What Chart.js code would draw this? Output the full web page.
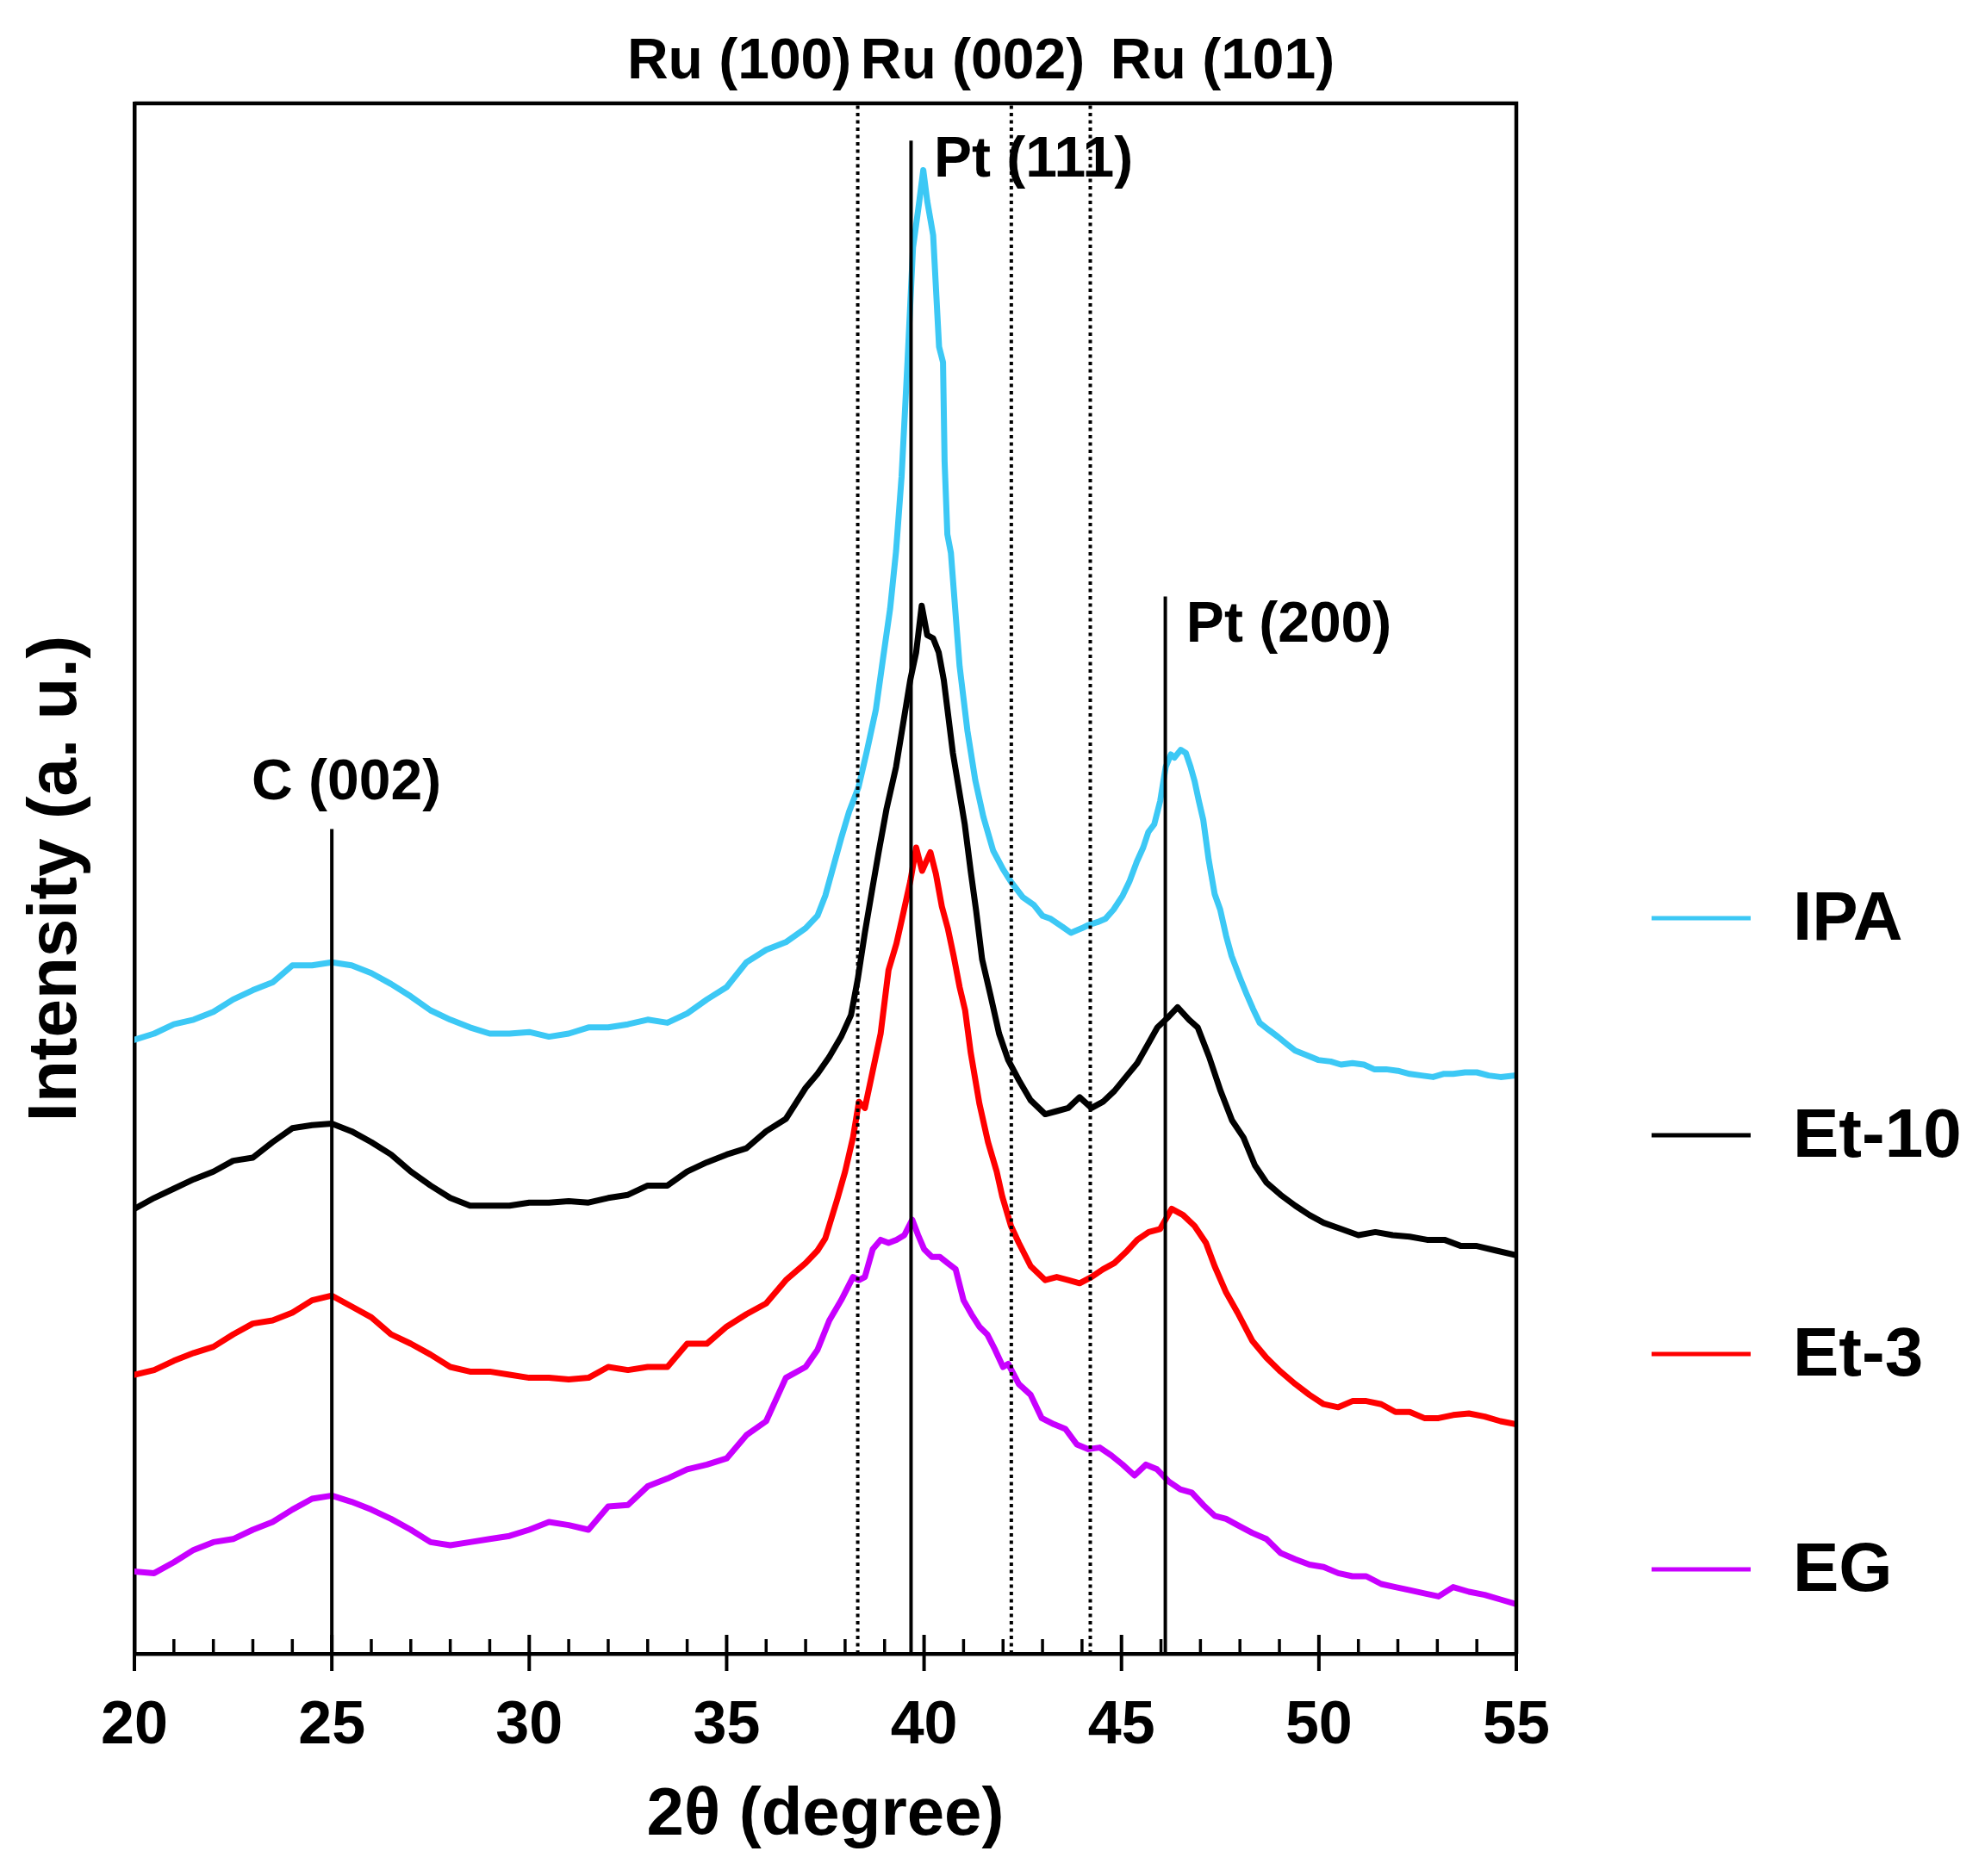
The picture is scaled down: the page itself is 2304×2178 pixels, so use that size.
<!DOCTYPE html>
<html>
<head>
<meta charset="utf-8">
<script src="https://cdn.jsdelivr.net/npm/chart.js@4.4.1/dist/chart.umd.min.js"></script>
<style>
  body { margin: 0; background: #fff; }
  canvas { display: block; }
</style>
</head>
<body>
<canvas id="myChart" width="2304" height="2178"></canvas>
<script>
// XRD patterns, intensity (arbitrary units, 0..100 of the frame)
const seriesNames = ['IPA', 'Et-10', 'Et-3', 'EG'];
const seriesColors = ['#3CC8F5', '#000000', '#FF0000', '#C800FF'];

const ipa = [
  [20,39.6],[20.5,40.0],[21,40.6],[21.5,40.9],[22,41.4],[22.5,42.2],[23,42.8],[23.5,43.3],
  [24,44.4],[24.5,44.4],[25,44.6],[25.5,44.4],[26,43.9],[26.5,43.2],[27,42.4],[27.5,41.5],
  [28,40.9],[28.5,40.4],[29,40.0],[29.5,40.0],[30,40.1],[30.5,39.8],[31,40.0],[31.5,40.4],
  [32,40.4],[32.5,40.6],[33,40.9],[33.5,40.7],[34,41.3],[34.5,42.2],[35,43.0],[35.5,44.6],
  [36,45.4],[36.5,45.9],[37,46.8],[37.3,47.6],[37.5,48.9],[37.9,52.6],[38.1,54.3],[38.34,55.9],
  [38.55,58.2],[38.78,60.9],[38.95,64.0],[39.14,67.4],[39.29,71.1],[39.43,75.9],[39.58,83.3],
  [39.72,90.7],[39.87,93.5],[39.98,95.7],[40.08,93.7],[40.23,91.5],[40.38,84.3],[40.48,83.3],
  [40.52,76.9],[40.59,72.2],[40.68,71.0],[40.9,63.7],[41.1,59.5],[41.3,56.3],[41.5,54.0],
  [41.75,51.8],[42.0,50.6],[42.2,49.8],[42.5,48.8],[42.78,48.3],[43.0,47.6],[43.21,47.4],
  [43.5,46.9],[43.72,46.5],[44.0,46.8],[44.16,47.0],[44.4,47.2],[44.59,47.4],[44.8,48.0],
  [45.03,48.9],[45.2,49.8],[45.39,51.1],[45.55,52.0],[45.68,53.0],[45.83,53.5],[45.98,55.0],
  [46.12,57.2],[46.25,58.0],[46.34,57.8],[46.5,58.3],[46.63,58.1],[46.75,57.2],[46.85,56.3],
  [46.96,55.0],[47.07,53.8],[47.21,51.2],[47.36,49.0],[47.5,48.0],[47.65,46.3],[47.79,45.0],
  [48.0,43.6],[48.16,42.6],[48.33,41.6],[48.5,40.7],[48.75,40.2],[48.96,39.8],[49.2,39.3],
  [49.4,38.9],[49.7,38.6],[49.98,38.3],[50.3,38.2],[50.56,38.0],[50.85,38.1],[51.14,38.0],
  [51.4,37.7],[51.7,37.7],[52.0,37.6],[52.3,37.4],[52.6,37.3],[52.89,37.2],[53.15,37.4],
  [53.4,37.4],[53.7,37.5],[54.0,37.5],[54.3,37.3],[54.6,37.2],[55,37.3]
];

const et10 = [
  [20,28.7],[20.5,29.4],[21,30.0],[21.5,30.6],[22,31.1],[22.5,31.8],[23,32.0],[23.5,33.0],
  [24,33.9],[24.5,34.1],[25,34.2],[25.5,33.7],[26,33.0],[26.5,32.2],[27,31.1],[27.5,30.2],
  [28,29.4],[28.5,28.9],[29,28.9],[29.5,28.9],[30,29.1],[30.5,29.1],[31,29.2],[31.5,29.1],
  [32,29.4],[32.5,29.6],[33,30.2],[33.5,30.2],[34,31.1],[34.5,31.7],[35,32.2],[35.5,32.6],
  [36,33.7],[36.5,34.5],[37,36.5],[37.3,37.4],[37.6,38.5],[37.9,39.8],[38.15,41.2],[38.32,43.5],
  [38.5,46.5],[38.7,49.5],[38.85,51.7],[39.05,54.5],[39.29,57.2],[39.47,60.0],[39.65,62.8],
  [39.8,64.6],[39.94,67.6],[40.08,65.7],[40.23,65.5],[40.37,64.6],[40.5,62.8],
  [40.73,58.1],[40.88,55.8],[41.03,53.5],[41.18,50.5],[41.32,47.9],[41.47,44.8],[41.68,42.5],
  [41.9,40.0],[42.13,38.3],[42.4,37.0],[42.7,35.7],[43.07,34.8],[43.36,35.0],[43.65,35.2],
  [43.94,35.9],[44.24,35.2],[44.53,35.6],[44.82,36.3],[45.11,37.2],[45.4,38.1],[45.69,39.4],
  [45.91,40.4],[46.2,41.1],[46.42,41.7],[46.71,40.9],[46.93,40.4],[47.22,38.5],[47.51,36.3],
  [47.8,34.4],[48.09,33.3],[48.38,31.5],[48.67,30.4],[49.03,29.6],[49.4,28.9],[49.76,28.3],
  [50.12,27.8],[50.56,27.4],[51.0,27.0],[51.43,27.2],[51.87,27.0],[52.3,26.9],[52.74,26.7],
  [53.18,26.7],[53.6,26.3],[54.0,26.3],[54.5,26.0],[55,25.7]
];

const et3 = [
  [20,18.0],[20.5,18.3],[21,18.9],[21.5,19.4],[22,19.8],[22.5,20.6],[23,21.3],[23.5,21.5],
  [24,22.0],[24.5,22.8],[25,23.1],[25.5,22.4],[26,21.7],[26.5,20.6],
  [27,20.0],[27.5,19.3],[28,18.5],[28.5,18.2],[29,18.2],[29.5,18.0],[30,17.8],[30.5,17.8],
  [31,17.7],[31.5,17.8],[32,18.5],[32.5,18.3],[33,18.5],[33.5,18.5],[34,20.0],[34.5,20.0],
  [35,21.1],[35.5,21.9],[36,22.6],[36.5,24.1],[37,25.2],[37.3,26.0],[37.5,26.8],[37.8,29.3],
  [38.0,31.1],[38.2,33.3],[38.35,35.6],[38.5,35.2],[38.7,37.6],[38.9,40.0],[39.1,44.1],
  [39.3,45.8],[39.45,47.5],[39.65,49.8],[39.8,52.0],[39.95,50.5],[40.16,51.7],[40.3,50.3],
  [40.45,48.2],[40.6,46.8],[40.75,45.0],[40.9,43.0],[41.04,41.5],[41.18,38.8],[41.4,35.5],
  [41.62,33.0],[41.84,31.1],[41.98,29.5],[42.2,27.6],[42.4,26.5],[42.7,25.0],[43.07,24.1],
  [43.36,24.3],[43.65,24.1],[43.94,23.9],[44.24,24.3],[44.53,24.8],[44.82,25.2],[45.11,25.9],
  [45.4,26.7],[45.69,27.2],[45.98,27.4],[46.27,28.7],[46.56,28.3],[46.85,27.6],[47.14,26.5],
  [47.36,25.0],[47.65,23.3],[47.94,22.0],[48.31,20.2],[48.67,19.1],[49.03,18.2],[49.4,17.4],
  [49.76,16.7],[50.12,16.1],[50.49,15.9],[50.85,16.3],[51.2,16.3],[51.58,16.1],[51.94,15.6],
  [52.3,15.6],[52.67,15.2],[53.03,15.2],[53.4,15.4],[53.8,15.5],[54.2,15.3],[54.6,15.0],[55,14.8]
];

const eg = [
  [20,5.3],[20.5,5.2],[21,5.9],[21.5,6.7],[22,7.2],[22.5,7.4],[23,8.0],[23.5,8.5],
  [24,9.3],[24.5,10.0],[25,10.2],[25.5,9.8],[26,9.3],[26.5,8.7],[27,8.0],[27.5,7.2],
  [28,7.0],[28.5,7.2],[29,7.4],[29.5,7.6],[30,8.0],[30.5,8.5],[31,8.3],[31.5,8.0],
  [32,9.5],[32.5,9.6],[33,10.8],[33.5,11.3],[34,11.9],[34.5,12.2],[35,12.6],[35.5,14.1],
  [36,15.0],[36.5,17.8],[37,18.5],[37.3,19.6],[37.6,21.5],[37.9,22.8],[38.2,24.3],[38.35,24.1],
  [38.5,24.3],[38.7,26.1],[38.9,26.7],[39.1,26.5],[39.3,26.7],[39.5,27.0],[39.7,28.0],
  [39.85,27.0],[40.0,26.1],[40.2,25.6],[40.4,25.6],[40.6,25.2],[40.8,24.8],[41.0,22.8],
  [41.2,21.9],[41.4,21.1],[41.6,20.6],[41.8,19.6],[42.0,18.5],[42.13,18.7],[42.4,17.4],
  [42.7,16.7],[42.98,15.2],[43.29,14.8],[43.58,14.5],[43.87,13.5],[44.16,13.2],[44.45,13.3],
  [44.74,12.8],[45.03,12.2],[45.33,11.5],[45.62,12.2],[45.9,11.9],[46.2,11.1],[46.49,10.6],
  [46.78,10.4],[47.07,9.6],[47.36,8.9],[47.65,8.7],[47.94,8.3],[48.31,7.8],[48.67,7.4],
  [49.03,6.5],[49.4,6.1],[49.76,5.75],[50.12,5.6],[50.49,5.2],[50.85,5.0],[51.2,5.0],
  [51.58,4.5],[51.94,4.3],[52.3,4.1],[52.67,3.9],[53.03,3.7],[53.4,4.3],[53.8,4.0],
  [54.2,3.8],[54.6,3.5],[55,3.2]
];

// reference reflections
const solidX = [25, 39.67, 46.11];
const solidTop = [53.2, 97.6, 68.2];
const dottedX = [38.32, 42.21, 44.21];

// peak labels: text, anchor x, anchor y, alignment
const peakText = ['C (002)', 'Pt (111)', 'Pt (200)', 'Ru (100)', 'Ru (002)', 'Ru (101)'];
const peakX = [25.37, 40.25, 46.64, 35.32, 41.23, 47.56];
const peakY = [56.1, 96.3, 66.3, 102.6, 102.6, 102.6];
const peakAlign = ['center', 'left', 'left', 'center', 'center', 'center'];

const xTicks = [20, 25, 30, 35, 40, 45, 50, 55];

const FONT = '"Liberation Sans", Arial, sans-serif';

function toPoints(arr) {
    return arr.map(p => ({ x: p[0], y: p[1] }));
}

const datasets = [];
for (let i = 0; i < solidX.length; i++) {
    datasets.push({
        data: [{ x: solidX[i], y: 0 }, { x: solidX[i], y: solidTop[i] }],
        borderColor: '#000', borderWidth: 4, pointRadius: 0
    });
}
for (let i = 0; i < dottedX.length; i++) {
    datasets.push({
        data: [{ x: dottedX[i], y: 0 }, { x: dottedX[i], y: 100 }],
        borderColor: '#000', borderWidth: 4, borderDash: [4, 4.5], pointRadius: 0
    });
}
const curves = [ipa, et10, et3, eg];
for (let i = 0; i < curves.length; i++) {
    datasets.push({
        label: seriesNames[i],
        data: toPoints(curves[i]),
        borderColor: seriesColors[i],
        borderWidth: 7,
        borderJoinStyle: 'round',
        borderCapStyle: 'round',
        pointRadius: 0,
        tension: 0
    });
}

const extras = {
    id: 'extras',
    afterDraw(chart) {
        const { ctx, chartArea: a, scales: { x, y } } = chart;
        ctx.save();
        // top and right frame
        ctx.strokeStyle = '#000';
        ctx.lineWidth = 4.5;
        ctx.beginPath();
        ctx.moveTo(a.left, a.top);
        ctx.lineTo(a.right, a.top);
        ctx.lineTo(a.right, a.bottom);
        ctx.stroke();
        // tick marks: minor every 1 deg (inside), major every 5 (across)
        for (let v = 20; v <= 55; v++) {
            const px = x.getPixelForValue(v);
            ctx.beginPath();
            if (v % 5 === 0) {
                ctx.lineWidth = 4;
                ctx.moveTo(px, a.bottom - 22);
                ctx.lineTo(px, a.bottom + 20);
            } else {
                ctx.lineWidth = 3.5;
                ctx.moveTo(px, a.bottom - 17);
                ctx.lineTo(px, a.bottom);
            }
            ctx.stroke();
        }
        // peak labels
        ctx.fillStyle = '#000';
        ctx.font = 'bold 66px ' + FONT;
        ctx.textBaseline = 'middle';
        for (let i = 0; i < peakText.length; i++) {
            ctx.textAlign = peakAlign[i];
            ctx.fillText(peakText[i], x.getPixelForValue(peakX[i]), y.getPixelForValue(peakY[i]));
        }
        // legend
        const rows = [1066, 1318, 1572, 1822];
        ctx.font = 'bold 80px ' + FONT;
        ctx.textAlign = 'left';
        for (let i = 0; i < seriesNames.length; i++) {
            ctx.strokeStyle = seriesColors[i];
            ctx.lineWidth = 5;
            ctx.beginPath();
            ctx.moveTo(a.right + 157, rows[i]);
            ctx.lineTo(a.right + 272, rows[i]);
            ctx.stroke();
            ctx.fillText(seriesNames[i], a.right + 321, rows[i] + 3);
        }
        ctx.restore();
    }
};

const ctx = document.getElementById('myChart');
new Chart(ctx, {
    type: 'line',
    data: { datasets: datasets },
    options: {
        responsive: false,
        devicePixelRatio: 1,
        animation: false,
        layout: { padding: { left: 0, top: 120, right: 544, bottom: 0 } },
        plugins: { legend: { display: false }, tooltip: { enabled: false } },
        scales: {
            x: {
                type: 'linear', min: 20, max: 55,
                afterBuildTicks: s => { s.ticks = xTicks.map(v => ({ value: v })); },
                afterFit: s => { s.height = 258; },
                ticks: { color: '#000', padding: 43, maxRotation: 0, font: { family: FONT, size: 70, weight: 'bold' } },
                grid: { display: false, drawTicks: false },
                border: { display: true, color: '#000', width: 4.5 },
                title: {
                    display: true, text: '2θ (degree)', color: '#000',
                    font: { family: FONT, size: 78, weight: 'bold' },
                    padding: { top: 0, bottom: 23 }
                }
            },
            y: {
                type: 'linear', min: 0, max: 100,
                afterFit: s => { s.width = 156; },
                ticks: { display: false },
                grid: { display: false, drawTicks: false },
                border: { display: true, color: '#000', width: 4.5 },
                title: {
                    display: true, text: 'Intensity (a. u.)', color: '#000',
                    font: { family: FONT, size: 80, weight: 'bold' },
                    padding: { top: 18, bottom: 0 }
                }
            }
        }
    },
    plugins: [extras]
});
</script>
</body>
</html>
